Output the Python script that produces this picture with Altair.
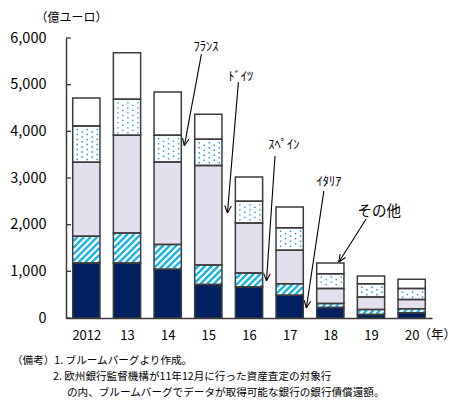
import altair as alt
import numpy as np
import pandas as pd

# ---- data (100 million euro) ----
years = ["2012", "13", "14", "15", "16", "17", "18", "19", "20"]
italy = [1180, 1180, 1045, 720, 665, 485, 225, 75, 115]
spain = [570, 640, 530, 415, 300, 250, 85, 105, 85]
germany = [1590, 2095, 1770, 2135, 1070, 715, 320, 270, 195]
france = [775, 770, 570, 560, 465, 485, 320, 285, 235]
other = [600, 1000, 930, 535, 520, 445, 230, 165, 200]
y_ticks = [0, 1000, 2000, 3000, 4000, 5000, 6000]

series_names = ["ｲﾀﾘｱ", "ｽﾍﾟｲﾝ", "ﾄﾞｲﾂ", "ﾌﾗﾝｽ", "その他"]
series_values = [italy, spain, germany, france, other]
series_fill = ["#002060", "#FFFFFF", "#E4DFEC", "#FFFFFF", "#FFFFFF"]

# annotation label anchors and arrows (data coordinates: bar index, value)
label_pos = {
    "ﾌﾗﾝｽ": (2.94, 5810),
    "ﾄﾞｲﾂ": (3.80, 5165),
    "ｽﾍﾟｲﾝ": (4.86, 3705),
    "ｲﾀﾘｱ": (5.97, 2915),
    "その他": (7.20, 2270),
}
arrow_pos = {
    "ﾌﾗﾝｽ": ((2.83, 5655), (2.41, 3690)),
    "ﾄﾞｲﾂ": ((3.74, 5055), (3.47, 2250)),
    "ｽﾍﾟｲﾝ": ((4.64, 3470), (4.43, 795)),
    "ｲﾀﾘｱ": ((5.84, 2720), (5.41, 215)),
    "その他": ((6.88, 2120), (6.21, 1200)),
}

notes = [
    "（備考）1. ブルームバーグより作成。",
    "2. 欧州銀行監督機構が11年12月に行った資産査定の対象行",
    "の内、ブルームバーグでデータが取得可能な銀行の銀行債償還額。",
]

# ---- geometry ----
W, H = 366, 280
YMAX = 6000
N = len(years)
HALF = 0.335
FONT = "Noto Sans CJK JP"
AXIS_COLOR = "#3a3a3a"

px_per_x = W / N
px_per_y = H / YMAX


def to_px(x, y):
    return (x + 0.5) * px_per_x, y * px_per_y


def to_data(u, v):
    return u / px_per_x - 0.5, v / px_per_y


# stacked segments
rows = []
for i, yr in enumerate(years):
    base = 0
    for name, vals in zip(series_names, series_values):
        rows.append(dict(year=yr, idx=i, series=name, x=i - HALF, x2=i + HALF,
                         y=base, y2=base + vals[i]))
        base += vals[i]
seg = pd.DataFrame(rows)

# diagonal hatching for the Spain segments
hatch = []
step = 6.6
for _, r in seg[seg.series == "ｽﾍﾟｲﾝ"].iterrows():
    u0, v0 = to_px(r.x, r.y)
    u1, v1 = to_px(r.x2, r.y2)
    u0 += 0.6; u1 -= 0.6; v0 += 0.6; v1 -= 0.6
    if v1 <= v0:
        continue
    for c in np.arange(v0 - u1 + 1.0, v1 - u0, step):
        a = max(u0, v0 - c)
        b = min(u1, v1 - c)
        if b - a < 0.3:
            continue
        xa, ya = to_data(a, a + c)
        xb, yb = to_data(b, b + c)
        hatch.append(dict(x=xa, y=ya, x2=xb, y2=yb))
hatch = pd.DataFrame(hatch)

# dot pattern for the France segments
dots = []
for _, r in seg[seg.series == "ﾌﾗﾝｽ"].iterrows():
    u0, v0 = to_px(r.x, r.y)
    u1, v1 = to_px(r.x2, r.y2)
    for k, u in enumerate(np.arange(u0 + 4.5, u1 - 2, 5.0)):
        off = 0 if k % 2 == 0 else 2.5
        for v in np.arange(v1 - 3.5 - off, v0 + 2, -5.0):
            x, y = to_data(u, v)
            dots.append(dict(x=x, y=y))
dots = pd.DataFrame(dots)

# arrows with open heads
arrows = []
for name, ((xs, ys), (xe, ye)) in arrow_pos.items():
    arrows.append(dict(x=xs, y=ys, x2=xe, y2=ye))
    us, vs = to_px(xs, ys)
    ue, ve = to_px(xe, ye)
    d = np.array([us - ue, vs - ve])
    d = d / np.linalg.norm(d)
    for ang in (0.42, -0.42):
        rot = np.array([[np.cos(ang), -np.sin(ang)], [np.sin(ang), np.cos(ang)]])
        p = np.array([ue, ve]) + 8.0 * rot.dot(d)
        xh, yh = to_data(p[0], p[1])
        arrows.append(dict(x=xe, y=ye, x2=xh, y2=yh))
arrows = pd.DataFrame(arrows)

labels = pd.DataFrame([dict(text=k, x=v[0], y=v[1],
                            fs=14.5 if k == "その他" else 12.5)
                       for k, v in label_pos.items()])

xscale = alt.Scale(domain=[-0.5, N - 0.5], nice=False, zero=False)
yscale = alt.Scale(domain=[0, YMAX], nice=False)
label_expr = "[" + ",".join("'%s'" % y for y in years) + "][datum.value]"

X_AXIS = alt.Axis(values=list(range(N)), labelExpr=label_expr, ticks=False,
                  grid=False, domainColor=AXIS_COLOR, domainWidth=1.5,
                  labelFont=FONT, labelFontSize=13, labelColor="#000",
                  labelPadding=11, title="（年）", titleFont=FONT,
                  titleFontSize=12.5, titleFontWeight="normal",
                  titleAlign="left", titleBaseline="middle",
                  titleX=352, titleY=16, titleColor="#000")
Y_AXIS = alt.Axis(values=y_ticks, labelExpr="format(datum.value, ',')",
                  ticks=False, grid=False,
                  domainColor=AXIS_COLOR, domainWidth=1.5,
                  labelFont=FONT, labelFontSize=14.5, labelColor="#000",
                  labelPadding=20, title="（億ユーロ）", titleFont=FONT,
                  titleFontSize=12, titleFontWeight="normal",
                  titleAngle=0, titleAlign="left", titleBaseline="middle",
                  titleX=-31, titleY=-21, titleColor="#000")


def xy(chart):
    return chart.encode(
        x=alt.X("x:Q", scale=xscale, axis=X_AXIS),
        y=alt.Y("y:Q", scale=yscale, axis=Y_AXIS),
    )


bars = xy(alt.Chart(seg).mark_rect(strokeWidth=0)).encode(
    x2="x2:Q", y2="y2:Q",
    color=alt.Color("series:N", scale=alt.Scale(domain=series_names, range=series_fill),
                    legend=None),
)

hatch_layer = xy(alt.Chart(hatch).mark_rule(color="#18B4EE", strokeWidth=2.4,
                                            strokeCap="butt")).encode(
    x2="x2:Q", y2="y2:Q")

dot_layer = xy(alt.Chart(dots).mark_square(color="#1C8FE0", size=2.0, opacity=1))

outline = xy(alt.Chart(seg).mark_rect(fillOpacity=0, stroke="#3c3c3c",
                                      strokeWidth=1.5)).encode(x2="x2:Q", y2="y2:Q")

inner_ticks = alt.Chart(pd.DataFrame({"y": y_ticks})).mark_rule(
    color=AXIS_COLOR, strokeWidth=1.3).encode(
    y=alt.Y("y:Q", scale=yscale, axis=Y_AXIS), x=alt.value(0), x2=alt.value(5))

arrow_layer = xy(alt.Chart(arrows).mark_rule(color="#000", strokeWidth=1.1)).encode(
    x2="x2:Q", y2="y2:Q")

label_layer = xy(alt.Chart(labels).mark_text(font=FONT, color="#000")).encode(
    text="text:N", size=alt.Size("fs:Q", scale=None, legend=None))

note_x = [-54, -13, 1]
note_y = [323, 339, 354.5]
note_layers = [
    alt.Chart(pd.DataFrame({"t": [t]})).mark_text(
        font=FONT, fontSize=10.6, align="left", baseline="middle", color="#000").encode(
        text="t:N", x=alt.value(nx), y=alt.value(ny))
    for t, nx, ny in zip(notes, note_x, note_y)
]

chart = alt.layer(bars, hatch_layer, dot_layer, outline, inner_ticks, arrow_layer,
                  label_layer, *note_layers).properties(
    width=W, height=H,
    autosize=alt.AutoSizeParams(type="none"),
    padding={"left": 66, "top": 38, "right": 30, "bottom": 89},
    background="white",
).configure_view(stroke=None)

chart.save("out.html", embed_options={"renderer": "svg", "actions": False})
